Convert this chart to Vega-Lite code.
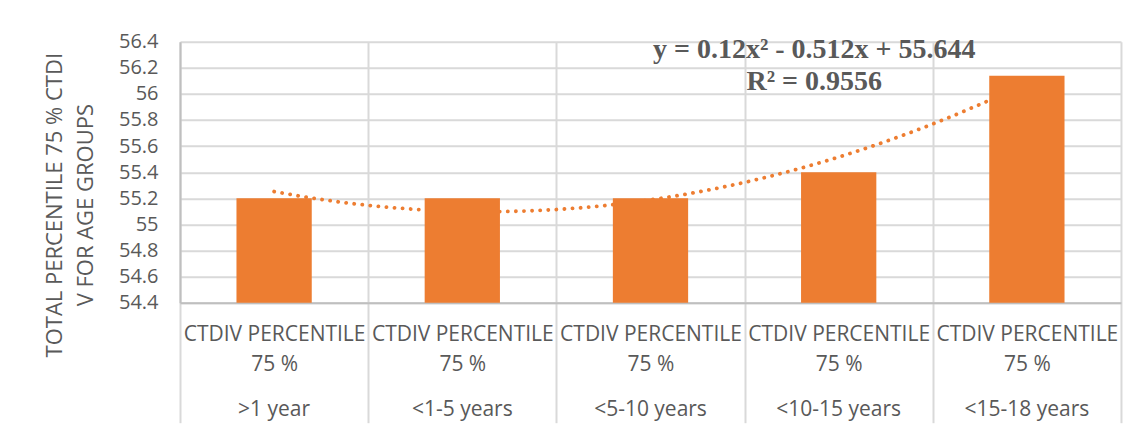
{
  "$schema": "https://vega.github.io/schema/vega-lite/v6.json",
  "autosize": {"type": "none"},
  "width": 941,
  "height": 261,
  "padding": {"left": 180, "top": 41.7, "right": 16, "bottom": 125},
  "background": "white",
  "config": {
    "view": {"stroke": null},
    "font": "Open Sans",
    "axis": {"labelFont": "Open Sans", "titleFont": "Open Sans", "labelColor": "#595959", "titleColor": "#595959"},
    "axisY": {"labelOverlap": false}
  },
  "datasets": {
    "groups": [
      {"group": ">1 year", "idx": 1, "value": 55.2},
      {"group": "<1-5 years", "idx": 2, "value": 55.2},
      {"group": "<5-10 years", "idx": 3, "value": 55.2},
      {"group": "<10-15 years", "idx": 4, "value": 55.4},
      {"group": "<15-18 years", "idx": 5, "value": 56.14}
    ],
    "fit": [
      {"equation": "y = 0.12x² - 0.512x + 55.644", "r2": "R² = 0.9556"}
    ]
  },
  "resolve": {"scale": {"x": "independent"}, "axis": {"x": "independent"}},
  "layer": [
    {
      "data": {"name": "groups"},
      "mark": {"type": "bar", "opacity": 0},
      "encoding": {
        "x": {
          "field": "group", "type": "nominal", "sort": null,
          "scale": {"paddingInner": 0, "paddingOuter": 0},
          "axis": {
            "orient": "bottom",
            "title": null,
            "labelAngle": 0,
            "labelExpr": "datum.value ? ['CTDIV PERCENTILE', '75 %'] : ''",
            "labelFontSize": 21,
            "labelLineHeight": 30,
            "labelPadding": -88,
            "labelBaseline": "middle",
            "labelBound": false,
            "labelOverlap": false,
            "labelLimit": 0,
            "tickBand": "extent",
            "tickSize": 120,
            "tickColor": "#d9d9d9",
            "tickWidth": 2,
            "grid": true,
            "gridColor": "#d9d9d9",
            "gridWidth": 2,
            "domainColor": "#bfbfbf",
            "domainWidth": 2
          }
        },
        "y": {
          "field": "value", "type": "quantitative",
          "scale": {"domain": [54.4, 56.4], "nice": false, "zero": false},
          "axis": {
            "values": [54.4, 54.6, 54.8, 55, 55.2, 55.4, 55.6, 55.8, 56, 56.2, 56.4],
            "format": ".1~f",
            "ticks": false,
            "labelFontSize": 20,
            "labelPadding": 22,
            "labelOverlap": false,
            "labelBound": false,
            "grid": true,
            "gridColor": "#d9d9d9",
            "gridWidth": 2,
            "domain": true,
            "domainColor": "#bfbfbf",
            "domainWidth": 2,
            "title": ["TOTAL PERCENTILE 75 % CTDI", "V FOR AGE GROUPS"],
            "titleFontSize": 22,
            "titleFontWeight": "normal",
            "titleLineHeight": 32,
            "titleAngle": -90,
            "titleAlign": "center",
            "titleBaseline": "top",
            "titleX": -136,
            "titleY": 163
          }
        }
      }
    },
    {
      "data": {"name": "groups"},
      "transform": [
        {"regression": "value", "on": "idx", "method": "poly", "order": 2, "extent": [1, 5]}
      ],
      "mark": {"type": "line", "color": "#ED7D31", "strokeWidth": 3.8, "strokeDash": [0.1, 8], "strokeCap": "round", "interpolate": "monotone"},
      "encoding": {
        "x": {"field": "idx", "type": "quantitative", "scale": {"domain": [0.5, 5.5], "nice": false, "zero": false}, "axis": null},
        "y": {
          "field": "value", "type": "quantitative",
          "axis": {"values": [54.4, 54.6, 54.8, 55, 55.2, 55.4, 55.6, 55.8, 56, 56.2, 56.4], "labelOverlap": false}
        }
      }
    },
    {
      "data": {"name": "groups"},
      "mark": {"type": "bar", "color": "#ED7D31", "clip": true},
      "encoding": {
        "x": {
          "field": "group", "type": "nominal", "sort": null,
          "scale": {"paddingInner": 0.6, "paddingOuter": 0.3},
          "axis": {
            "orient": "bottom",
            "title": null,
            "labelAngle": 0,
            "labelFontSize": 21,
            "labelPadding": 107,
            "labelBaseline": "middle",
            "labelBound": false,
            "labelOverlap": false,
            "labelLimit": 0,
            "ticks": false,
            "grid": false,
            "domain": false
          }
        },
        "y": {
          "field": "value", "type": "quantitative",
          "axis": {"values": [54.4, 54.6, 54.8, 55, 55.2, 55.4, 55.6, 55.8, 56, 56.2, 56.4], "labelOverlap": false}
        }
      }
    },
    {
      "data": {"name": "fit"},
      "mark": {"type": "text", "font": "Liberation Serif", "fontWeight": "bold", "fontSize": 28, "color": "#595959", "align": "center", "baseline": "middle"},
      "encoding": {
        "x": {"datum": 3.87, "type": "quantitative", "scale": {"domain": [0.5, 5.5], "nice": false, "zero": false}, "axis": null},
        "y": {"datum": 56.336, "type": "quantitative", "axis": {"values": [54.4, 54.6, 54.8, 55, 55.2, 55.4, 55.6, 55.8, 56, 56.2, 56.4], "labelOverlap": false}},
        "text": {"field": "equation", "type": "nominal"}
      }
    },
    {
      "data": {"name": "fit"},
      "mark": {"type": "text", "font": "Liberation Serif", "fontWeight": "bold", "fontSize": 28, "color": "#595959", "align": "center", "baseline": "middle"},
      "encoding": {
        "x": {"datum": 3.87, "type": "quantitative", "scale": {"domain": [0.5, 5.5], "nice": false, "zero": false}, "axis": null},
        "y": {"datum": 56.093, "type": "quantitative", "axis": {"values": [54.4, 54.6, 54.8, 55, 55.2, 55.4, 55.6, 55.8, 56, 56.2, 56.4], "labelOverlap": false}},
        "text": {"field": "r2", "type": "nominal"}
      }
    }
  ]
}
